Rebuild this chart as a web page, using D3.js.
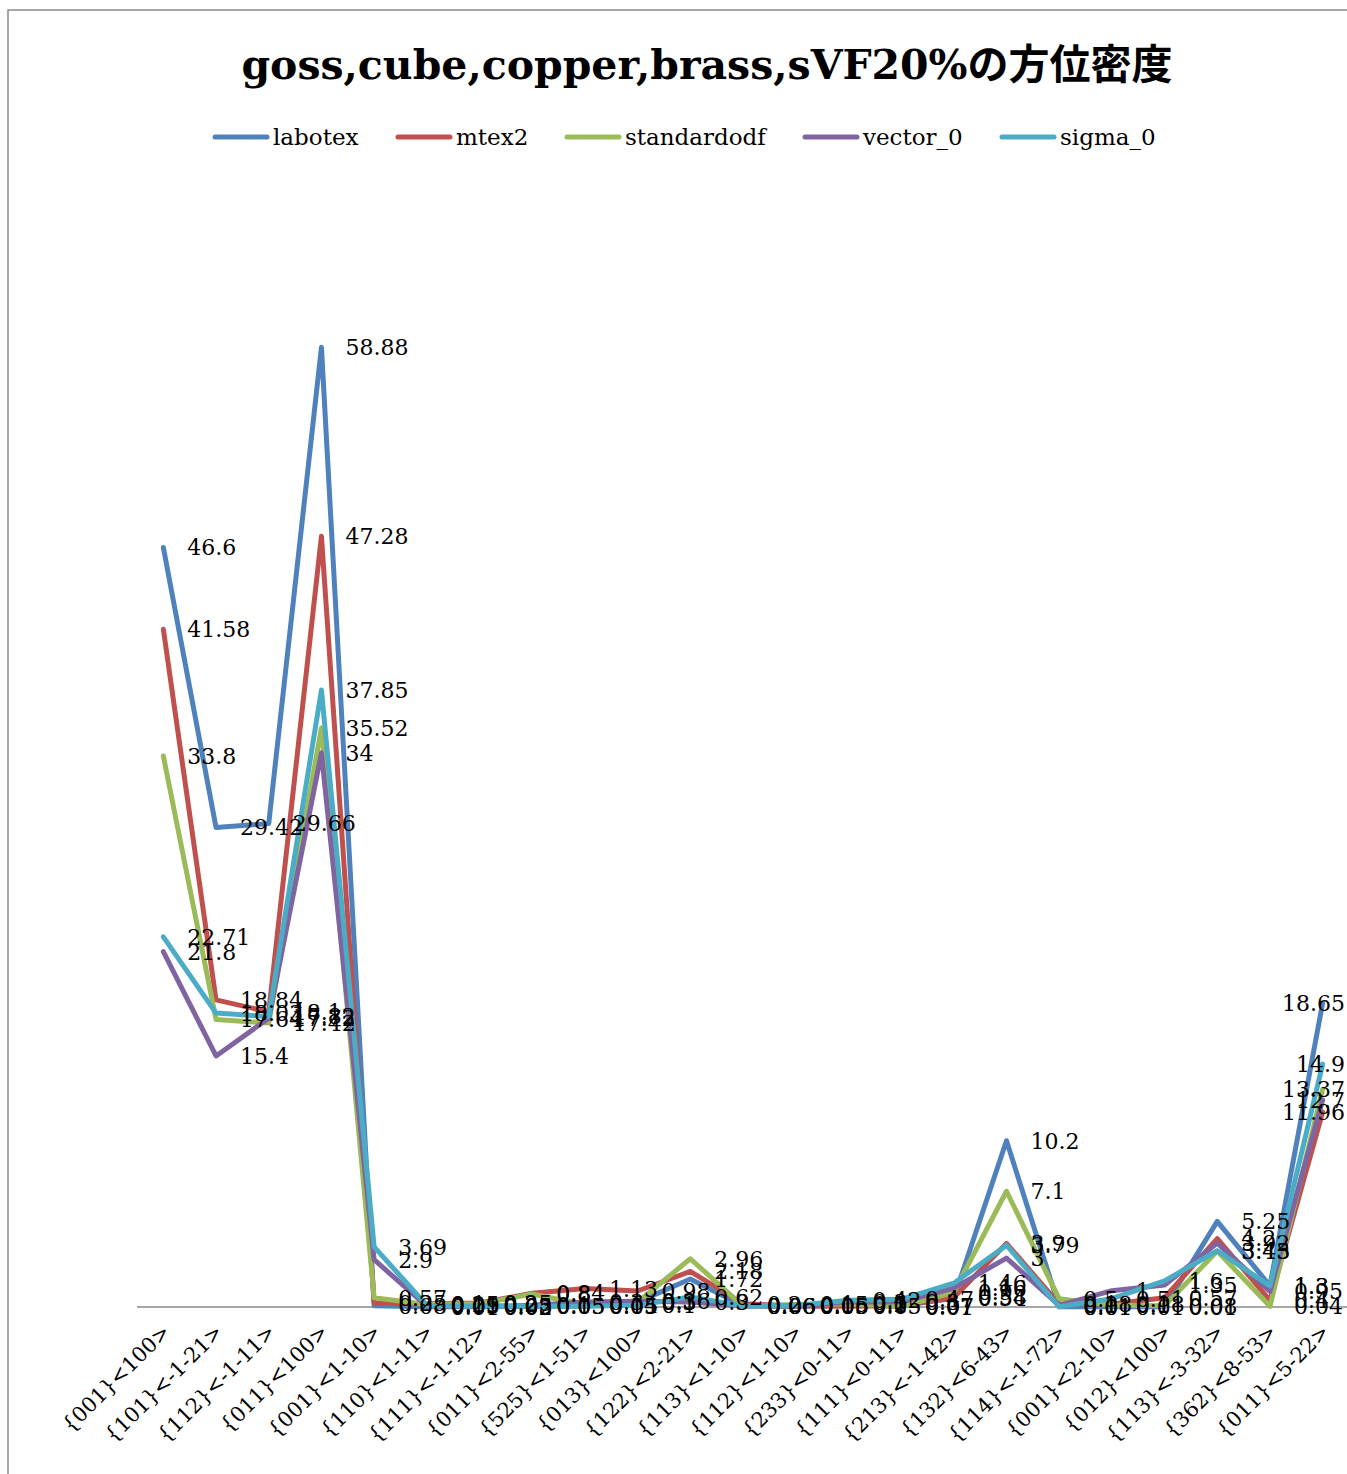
<!DOCTYPE html>
<html>
<head>
<meta charset="utf-8">
<script src="https://cdn.jsdelivr.net/npm/d3@7"></script>
<style>
  html, body { margin: 0; padding: 0; background: #fff; overflow: hidden; }
  svg { display: block; }
  text { font-family: "DejaVu Serif", "Noto Sans CJK JP", serif; fill: #000; }
</style>
</head>
<body>
<svg id="chart" width="1347" height="1474"></svg>
<script>
// Orientation categories (x axis)
const categories = [
  "{001}<100>", "{101}<-1-21>", "{112}<-1-11>", "{011}<100>", "{001}<1-10>",
  "{110}<1-11>", "{111}<-1-12>", "{011}<2-55>", "{525}<1-51>", "{013}<100>",
  "{122}<2-21>", "{113}<1-10>", "{112}<1-10>", "{233}<0-11>", "{111}<0-11>",
  "{213}<-1-42>", "{132}<6-43>", "{114}<-1-72>", "{001}<2-10>", "{012}<100>",
  "{113}<-3-32>", "{362}<8-53>", "{011}<5-22>"
];

// Orientation density per method
const labotex     = [46.6, 29.42, 29.66, 58.88, 0.08, 0.01, 0.02, 0.05, 0.05, 0.3, 1.72, 0.06, 0.05, 0.1, 0.07, 0.54, 10.2, 0.01, 0.01, 0.01, 5.25, 1.3, 18.65];
const mtex2       = [41.58, 18.84, 18.1, 47.28, 0.25, 0.2, 0.25, 0.84, 1.13, 0.98, 2.18, 0.2, 0.06, 0.05, 0.07, 0.58, 3.9, 0.18, 0.18, 0.57, 4.2, 0.4, 11.96];
const standardodf = [33.8, 17.64, 17.42, 35.52, 0.57, 0.15, 0.2, 0.8, 0.14, 0.3, 2.96, 0.06, 0.15, 0.2, 0.01, 0.9, 7.1, 0.5, 0.1, 0.08, 3.43, 0.04, 13.37];
const vector_0    = [21.8, 15.4, 17.72, 34, 2.9, 0.05, 0.03, 0.1, 0.3, 0.36, 0.3, 0.06, 0.05, 0.3, 0.3, 1.16, 3, 0.1, 1, 1.35, 3.92, 0.95, 12.7];
const sigma_0     = [22.71, 18.03, 17.82, 37.85, 3.69, 0.09, 0.05, 0.05, 0.05, 0.1, 0.62, 0.06, 0.1, 0.42, 0.47, 1.46, 3.79, 0.01, 0.51, 1.6, 3.45, 1.3, 14.9];

const seriesNames  = ["labotex", "mtex2", "standardodf", "vector_0", "sigma_0"];
const seriesValues = [labotex, mtex2, standardodf, vector_0, sigma_0];
const seriesColors = ["#4F81BD", "#C0504D", "#9BBB59", "#8064A2", "#4BACC6"];

const titleText = "goss,cube,copper,brass,sVF20%の方位密度";
const yDomain = [0, 70];

const series = seriesNames.map((name, i) => ({
  name, color: seriesColors[i], values: seriesValues[i]
}));

const svg = d3.select("#chart");

// chart area frame
svg.append("rect")
  .attr("x", 8).attr("y", 10)
  .attr("width", 1400).attr("height", 1500)
  .attr("fill", "#fff")
  .attr("stroke", "#8a8a8a").attr("stroke-width", 1.5);

// plot geometry
const plot = { left: 137, right: 1349, top: 166, bottom: 1307 };
const chartRight = 1345; // labels are kept inside the chart area

const x = d3.scalePoint()
  .domain(categories)
  .range([plot.left, plot.right])
  .padding(0.5);

const y = d3.scaleLinear()
  .domain(yDomain)
  .range([plot.bottom, plot.top]);

// title
svg.append("text")
  .attr("x", 707).attr("y", 79)
  .attr("text-anchor", "middle")
  .style("font-size", "41px")
  .style("font-weight", "bold")
  .text(titleText);

// legend
const legendX = [215, 398, 567, 805, 1002];
const legend = svg.append("g");
series.forEach((s, i) => {
  const g = legend.append("g").attr("transform", `translate(${legendX[i]},137)`);
  g.append("line")
    .attr("x1", 0).attr("x2", 52).attr("y1", 0).attr("y2", 0)
    .attr("stroke", s.color).attr("stroke-width", 5).attr("stroke-linecap", "round");
  g.append("text")
    .attr("x", 58).attr("y", 0).attr("dy", "0.35em")
    .style("font-size", "23px")
    .text(s.name);
});

// category axis
const xAxis = svg.append("g")
  .attr("transform", `translate(0,${y(0)})`)
  .call(d3.axisBottom(x).tickSize(0).tickFormat(""));
xAxis.select(".domain")
  .attr("d", `M${plot.left},0H${plot.right + 10}`)
  .attr("stroke", "#8a8a8a").attr("stroke-width", 1.5);

svg.append("g").selectAll("text")
  .data(categories)
  .join("text")
  .attr("transform", d => `translate(${x(d) + 8},${plot.bottom + 26}) rotate(-45)`)
  .attr("text-anchor", "end")
  .style("font-size", "21px")
  .text(d => d);

// series lines
const line = d3.line()
  .x((d, i) => x(categories[i]))
  .y(d => y(d));

svg.append("g").selectAll("path")
  .data(series)
  .join("path")
  .attr("d", s => line(s.values))
  .attr("fill", "none")
  .attr("stroke", s => s.color)
  .attr("stroke-width", 5)
  .attr("stroke-linejoin", "round")
  .attr("stroke-linecap", "round");

// value labels to the right of each point, pulled back inside the chart edge
const labels = svg.append("g");
series.forEach(s => {
  labels.append("g").selectAll("text")
    .data(s.values)
    .join("text")
    .attr("y", d => y(d))
    .attr("dy", "0.36em")
    .style("font-size", "22px")
    .text(d => d3.format("~")(d))
    .attr("x", function (d, i) {
      const w = this.getComputedTextLength();
      return Math.min(x(categories[i]) + 24, chartRight - w);
    });
});
</script>
</body>
</html>
